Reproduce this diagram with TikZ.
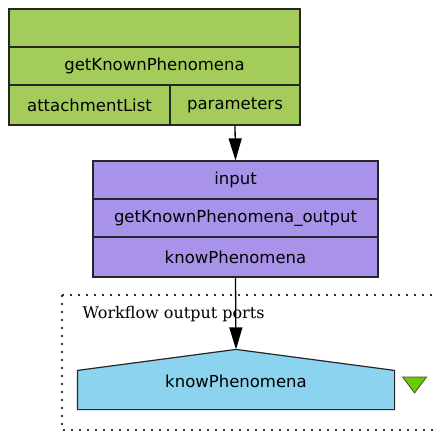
\documentclass[tikz,border=0pt]{standalone}
\usepackage{fontspec}
\newfontfamily\boxfont{DejaVu Sans}
\newfontfamily\captionfont{DejaVu Serif}
\usetikzlibrary{shapes}
\usetikzlibrary{calc}
\usetikzlibrary{arrows.meta}
\definecolor{procgreen}{HTML}{A3CC5A}
\definecolor{procpurple}{HTML}{A992EA}
\definecolor{portblue}{HTML}{8BD3EE}
\definecolor{flaggreen}{HTML}{66CC00}
\tikzstyle{cell} = [rectangle,draw=black!85,line width=1.2pt,inner sep=0pt,
minimum height=38pt, font=\boxfont\fontsize{16.5}{18}\selectfont]
\tikzstyle{service} = [cell,fill=procgreen]
\tikzstyle{beanshell} = [cell,fill=procpurple]
\tikzstyle{outport} = [cell,draw=none,minimum width=316pt]
\tikzstyle{caption} = [font=\captionfont\fontsize{16}{18}\selectfont]
\tikzset{>={Triangle[length=22pt,width=13pt]}}

\begin{document}
\begin{tikzpicture}[x=1pt,y=-1pt]
  \useasboundingbox (0,0) rectangle (438,432);

  % workflow output ports frame
  \draw[black!80, line width=2pt, dash pattern=on 2pt off 6pt]
    (62,295) rectangle (460,430);
  \node[caption, anchor=base west] (ports) at (79,318) {Workflow output ports};

  % processor getKnownPhenomena
  \node[service, minimum width=291pt] (g0) at (154.5,28) {};
  \node[service, minimum width=291pt] (g1) at (154.5,66) {getKnownPhenomena};
  \node[service, minimum width=161pt, minimum height=40pt] (g2a) at (89.5,105) {attachmentList};
  \node[service, minimum width=130pt, minimum height=40pt] (g2b) at (235,105) {parameters};

  % processor knowPhenomena (beanshell)
  \node[beanshell, minimum width=285pt] (p0) at (235.5,180) {input};
  \node[beanshell, minimum width=285pt] (p1) at (235.5,218) {getKnownPhenomena\_output};
  \node[beanshell, minimum width=285pt, minimum height=40pt] (p2) at (235.5,257) {knowPhenomena};

  % output port
  \node[outport] (out) at (236,390) {};
  \coordinate (apex) at ($(out.north)+(0,-21)$);
  \draw[fill=portblue, draw=black!85, line width=1.2pt]
    (out.south west) -- (out.north west) -- (apex) -- (out.north east)
    -- (out.south east) -- cycle;
  \node[outport, anchor=center] (outlabel) at ($(out.center)+(0,-9)$) {knowPhenomena};
  \draw[fill=flaggreen, draw=black!70, line width=0.8pt]
    ($(out.east)+(8,-13)$) -- ($(out.east)+(32,-13)$) -- ($(out.east)+(20,3)$) -- cycle;

  \draw[->, line width=1.3pt] (g2b.south) -- (p0.north);
  \draw[->, line width=1.3pt] (p2.south) -- (apex);
\end{tikzpicture}
\end{document}
